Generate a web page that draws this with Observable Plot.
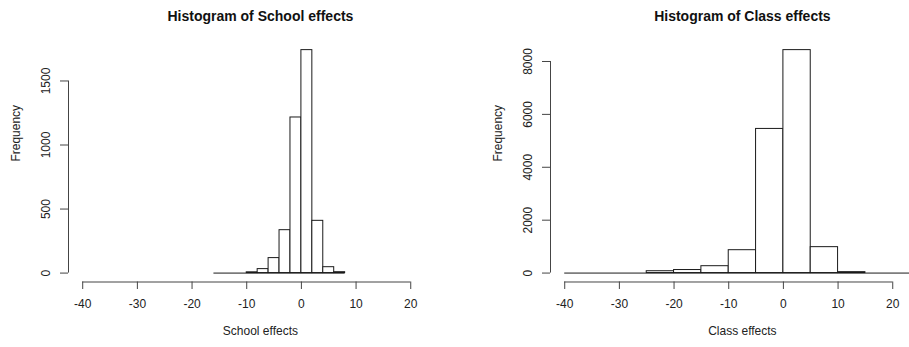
<!DOCTYPE html>
<html><head><meta charset="utf-8">
<script src="https://cdn.jsdelivr.net/npm/d3@7"></script>
<script src="https://cdn.jsdelivr.net/npm/@observablehq/plot@0.6"></script>
<style>
html,body{margin:0;padding:0;background:#fff;}
#wrap{position:relative;width:909px;height:347px;overflow:hidden;background:#fff;}
#wrap > svg{position:absolute;top:0;}
</style></head><body><div id="wrap"></div>
<script>
// ---- data ----
const xTicks = [-40, -30, -20, -10, 0, 10, 20];
const xLimits = [-40, 25];

const schoolBinStarts = [-16, -14, -12, -10, -8, -6, -4, -2, 0, 2, 4, 6];
const schoolBinWidth = 2;
const schoolCounts = [0, 0, 0, 6, 31, 117, 335, 1215, 1741, 408, 46, 7];
const schoolYTicks = [0, 500, 1000, 1500];

const classBinStarts = [-40, -35, -30, -25, -20, -15, -10, -5, 0, 5, 10, 15, 20, 25];
const classBinWidth = 5;
const classCounts = [0, 0, 0, 70, 115, 260, 865, 5450, 8430, 980, 35, 0, 0, 0];
const classYTicks = [0, 2000, 4000, 6000, 8000];

// ---- layout ----
const PLOT_W = 383.8;
const FONT = '"Liberation Sans", Arial, Helvetica, sans-serif';

function hist({starts, width, counts, yTicks, title, xlabel, marginLeft, marginRight, left}) {
  const bins = starts.map((s, i) => ({x1: s, x2: s + width, n: counts[i]}));
  const pad = 0.04 * (xLimits[1] - xLimits[0]);
  const xDomain = [xLimits[0] - pad, xLimits[1] + pad];
  const ymax = d3.max(counts);
  const yDomain = [-0.04 * ymax, 1.04 * ymax];
  const svg = Plot.plot({
    width: marginLeft + PLOT_W + marginRight,
    height: 347,
    marginLeft, marginRight,
    marginTop: 40.7, marginBottom: 65.5,
    x: {domain: xDomain},
    y: {domain: yDomain},
    style: {fontFamily: FONT, fontSize: "12px", background: "transparent", color: "#222", overflow: "visible"},
    marks: [
      Plot.rect(bins.filter(b => b.n > 0), {x1: "x1", x2: "x2", y1: 0, y2: "n", fill: "white", stroke: "#1a1a1a", strokeWidth: 1}),
      Plot.ruleY([0], {x1: bins[0].x1, x2: bins[bins.length - 1].x2, stroke: "#1a1a1a"}),
      Plot.ruleY([yDomain[0]], {x1: xTicks[0], x2: xTicks[xTicks.length - 1], stroke: "#444"}),
      Plot.ruleX([xDomain[0]], {y1: yTicks[0], y2: yTicks[yTicks.length - 1], stroke: "#444"}),
      Plot.axisX({ticks: xTicks, tickSize: 7.5, tickPadding: 10, tickFormat: d => String(d), label: null, stroke: "#444", fill: "#222"}),
      Plot.axisY({ticks: yTicks, tickSize: 8, tickRotate: -90, tickPadding: 14.3, textAnchor: "middle", lineAnchor: "middle", tickFormat: d => String(d), label: null, stroke: "#444", fill: "#222"}),
      Plot.text([title], {text: d => d, frameAnchor: "top", dy: -30.5, fontWeight: "bold", fontSize: 14, fill: "#111"}),
      Plot.text([xlabel], {text: d => d, frameAnchor: "bottom", dy: 52.8, fontSize: 12, fill: "#222"}),
      Plot.text(["Frequency"], {text: d => d, frameAnchor: "left", dx: -52.3, rotate: -90, fontSize: 12, fill: "#222"})
    ]
  });
  svg.style.left = left + "px";
  return svg;
}

const wrap = document.getElementById("wrap");
wrap.appendChild(hist({
  starts: schoolBinStarts, width: schoolBinWidth, counts: schoolCounts, yTicks: schoolYTicks,
  title: "Histogram of School effects", xlabel: "School effects",
  marginLeft: 68, marginRight: 2.2, left: 0
}));
wrap.appendChild(hist({
  starts: classBinStarts, width: classBinWidth, counts: classCounts, yTicks: classYTicks,
  title: "Histogram of Class effects", xlabel: "Class effects",
  marginLeft: 96, marginRight: 5, left: 454
}));
</script>
</body></html>
